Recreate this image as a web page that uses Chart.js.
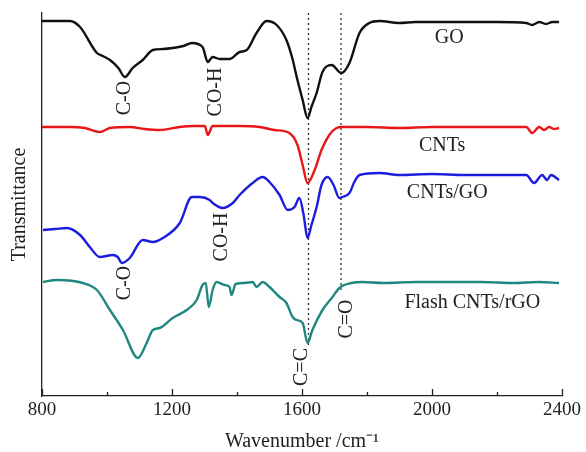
<!DOCTYPE html>
<html>
<head>
<meta charset="utf-8">
<script src="https://cdn.jsdelivr.net/npm/chart.js@4.4.1/dist/chart.umd.min.js"></script>
<style>
  html, body { margin: 0; padding: 0; background: #fff; }
  #wrap { width: 586px; height: 452px; position: relative; }
</style>
</head>
<body>
<div id="wrap"><canvas id="ftir"></canvas></div>
<script>
// FTIR spectra, wavenumber (cm-1) vs transmittance (arbitrary, curves offset)
var goWave = [800, 886, 917, 969, 987, 1009, 1035, 1055, 1079, 1110, 1141, 1172, 1202, 1235, 1261, 1294, 1310, 1325, 1347, 1377, 1408, 1430, 1460, 1491, 1522, 1552, 1570, 1586, 1602, 1617, 1630, 1645, 1663, 1691, 1721, 1746, 1777, 1807, 1838, 1900, 1950, 2000, 2100, 2200, 2290, 2308, 2330, 2351, 2370, 2391];
var goT    = [375, 375, 369, 343, 340, 336, 328, 319, 328, 336, 346, 347, 348, 350, 353, 349, 334, 339, 337, 337, 344, 346, 363, 375, 371, 356, 338, 316, 296, 278, 290, 303, 324, 331, 323, 333, 363, 373, 375, 373, 374, 374, 374, 374, 373, 371, 374, 372, 374, 374];

var cntWave = [800, 886, 932, 978, 1009, 1070, 1116, 1162, 1224, 1270, 1301, 1310, 1325, 1408, 1469, 1515, 1561, 1586, 1602, 1617, 1639, 1660, 1684, 1706, 1724, 1800, 1900, 2000, 2100, 2200, 2290, 2308, 2330, 2345, 2360, 2376, 2391];
var cntT    = [269, 269, 268, 264, 268, 269, 267, 266, 269, 270, 270, 261, 270, 270, 269, 266, 263, 251, 231, 213, 226, 246, 261, 268, 269, 269, 268, 269, 269, 269, 269, 263, 269, 266, 269, 267, 268];

var mixWave = [803, 840, 877, 917, 947, 978, 1018, 1033, 1046, 1070, 1110, 1141, 1172, 1224, 1261, 1286, 1316, 1325, 1356, 1387, 1408, 1448, 1479, 1500, 1531, 1556, 1577, 1592, 1605, 1617, 1629, 1645, 1660, 1679, 1697, 1715, 1724, 1746, 1761, 1777, 1838, 1900, 2000, 2100, 2200, 2290, 2314, 2339, 2354, 2366, 2391];
var mixT    = [166, 167, 168, 161, 149, 139, 141, 139, 133, 138, 156, 154, 158, 173, 199, 199, 196, 193, 188, 193, 201, 213, 219, 214, 201, 186, 189, 198, 181, 158, 171, 189, 211, 219, 211, 198, 199, 203, 214, 221, 223, 221, 222, 221, 221, 221, 213, 221, 216, 221, 216];

var flashWave = [803, 846, 926, 969, 1009, 1049, 1095, 1122, 1141, 1162, 1202, 1245, 1276, 1294, 1304, 1313, 1325, 1337, 1362, 1377, 1383, 1396, 1423, 1448, 1460, 1479, 1500, 1531, 1552, 1571, 1583, 1602, 1617, 1632, 1663, 1694, 1715, 1752, 1786, 1850, 1950, 2050, 2150, 2250, 2330, 2391];
var flashT    = [114, 116, 113, 106, 86, 66, 38, 53, 66, 68, 78, 86, 96, 111, 113, 89, 106, 114, 111, 109, 101, 112, 113, 114, 109, 114, 109, 99, 93, 79, 76, 73, 53, 66, 86, 99, 108, 113, 114, 113, 114, 114, 114, 113, 114, 113];

// dashed guide lines at C=C and C=O
var guideWave = [1620, 1720];
var guideTop = [383, 383];
var guideBottom = [51, 104];

var seriesNames = ['GO', 'CNTs', 'CNTs/GO', 'Flash CNTs/rGO'];
var xTicks = [800, 1200, 1600, 2000, 2400];

function zip(xs, ys) {
    return xs.map(function (x, i) { return { x: x, y: ys[i] }; });
}

// text labels placed in data coordinates
var curveLabels = [
    { text: 'GO', x: 2053, y: 358 },
    { text: 'CNTs', x: 2031, y: 250 },
    { text: 'CNTs/GO', x: 2047, y: 203 },
    { text: 'Flash CNTs/rGO', x: 2124, y: 93 }
];
var bondLabels = [
    { text: 'C-O', x: 1055, y: 298 },
    { text: 'CO-H', x: 1334, y: 304 },
    { text: 'C-O', x: 1055, y: 113 },
    { text: 'CO-H', x: 1353, y: 159 },
    { text: 'C=C', x: 1598, y: 29 },
    { text: 'C=O', x: 1737, y: 77 }
];

var serif = "'Liberation Serif', 'Times New Roman', serif";

var textPlugin = {
    id: 'textPlugin',
    afterDraw: function (chart) {
        var ctx = chart.ctx;
        var xs = chart.scales.x, ys = chart.scales.y;
        var area = chart.chartArea;
        ctx.save();
        // inward ticks on x axis
        ctx.strokeStyle = '#222';
        ctx.lineWidth = 1.3;
        for (var v = 800; v <= 2400; v += 200) {
            var px = Math.round(xs.getPixelForValue(v)) + 0.5;
            var len = (v % 400 === 0) ? 7 : 4;
            ctx.beginPath();
            ctx.moveTo(px, area.bottom);
            ctx.lineTo(px, area.bottom - len);
            ctx.stroke();
        }
        ctx.fillStyle = '#222';
        ctx.font = '20px ' + serif;
        ctx.textAlign = 'center';
        ctx.textBaseline = 'middle';
        curveLabels.forEach(function (l) {
            ctx.fillText(l.text, xs.getPixelForValue(l.x), ys.getPixelForValue(l.y));
        });
        bondLabels.forEach(function (l) {
            ctx.save();
            ctx.translate(xs.getPixelForValue(l.x), ys.getPixelForValue(l.y));
            ctx.rotate(-Math.PI / 2);
            ctx.fillText(l.text, 0, 0);
            ctx.restore();
        });
        ctx.restore();
    }
};

var colors = ['#111111', 'rgb(232,22,22)', 'rgb(28,28,222)', 'rgb(32,134,128)'];

var datasets = [
    zip(goWave, goT), zip(cntWave, cntT), zip(mixWave, mixT), zip(flashWave, flashT)
].map(function (pts, i) {
    return {
        label: seriesNames[i],
        data: pts,
        borderColor: colors[i],
        borderWidth: 2.4,
        pointRadius: 0,
        cubicInterpolationMode: 'monotone',
        fill: false
    };
});

guideWave.forEach(function (w, i) {
    datasets.push({
        label: 'guide' + i,
        data: [{ x: w, y: guideTop[i] }, { x: w, y: guideBottom[i] }],
        borderColor: '#333',
        borderWidth: 1.3,
        borderDash: [2, 3],
        pointRadius: 0,
        fill: false
    });
});

var ctx = document.getElementById('ftir').getContext('2d');
var ftirChart = new Chart(ctx, {
    type: 'line',
    data: { datasets: datasets },
    options: {
        responsive: true,
        maintainAspectRatio: false,
        animation: false,
        layout: { padding: { top: 13, right: 24, left: 0, bottom: 0 } },
        plugins: { legend: { display: false }, tooltip: { enabled: false } },
        scales: {
            x: {
                type: 'linear',
                min: 800,
                max: 2400,
                afterBuildTicks: function (scale) {
                    scale.ticks = xTicks.map(function (v) { return { value: v }; });
                },
                afterFit: function (scale) { scale.height = 56; },
                grid: { display: false, drawTicks: false },
                border: { display: true, color: '#222', width: 1.3 },
                ticks: {
                    color: '#222',
                    padding: 3,
                    maxRotation: 0,
                    font: { family: serif, size: 19 },
                    callback: function (v) { return String(v); }
                },
                title: {
                    display: true,
                    text: 'Wavenumber /cm\u207B\u00B9',
                    color: '#222',
                    padding: { top: 0, bottom: 0 },
                    font: { family: serif, size: 20, lineHeight: 1 }
                }
            },
            y: {
                type: 'linear',
                min: 0,
                max: 383,
                afterFit: function (scale) { scale.width = 42; },
                grid: { display: false, drawTicks: false },
                border: { display: true, color: '#222', width: 1.3 },
                ticks: { display: false },
                title: {
                    display: true,
                    text: 'Transmittance',
                    color: '#222',
                    padding: { top: 10, bottom: 0 },
                    font: { family: serif, size: 20, lineHeight: 1 }
                }
            }
        }
    },
    plugins: [textPlugin]
});
</script>
</body>
</html>
